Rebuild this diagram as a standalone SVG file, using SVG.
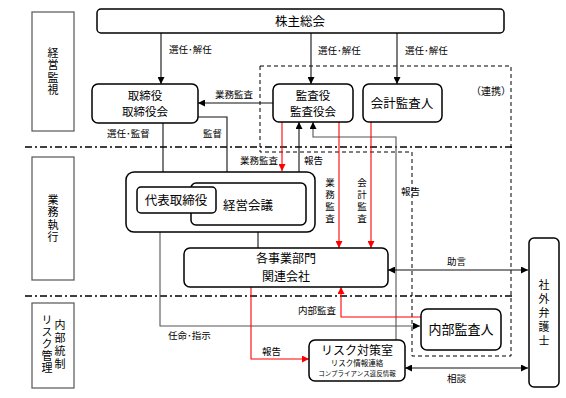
<svg xmlns="http://www.w3.org/2000/svg" width="566" height="398" viewBox="0 0 566 398">
<style>
text{font-family:"Noto Sans CJK JP","Noto Sans",sans-serif;fill:#000}
.v{writing-mode:vertical-rl;text-orientation:upright}
.box{fill:#fff;stroke:#000;stroke-width:1.5}
.side{fill:#fff;stroke:#555;stroke-width:1.2}
.ln{fill:none;stroke:#111;stroke-width:1.1}
.gr{fill:none;stroke:#555;stroke-width:1.1}
.rd{fill:none;stroke:#f00;stroke-width:1.1}
.sep{fill:none;stroke:#000;stroke-width:1.5;stroke-dasharray:7 3 2 3}
.dash{fill:none;stroke:#000;stroke-width:1;stroke-dasharray:4 3}
.lb{font-size:9.5px}
.nm{font-size:12.5px}
.n2{font-size:11.5px}
.sd{font-size:11px}
</style>
<defs>
<marker id="a" viewBox="0 0 10 10" refX="10" refY="5" markerWidth="7" markerHeight="7" markerUnits="userSpaceOnUse" orient="auto-start-reverse"><path d="M0,0L10,5L0,10z" fill="#000"/></marker>
<marker id="r" viewBox="0 0 10 10" refX="10" refY="5" markerWidth="7" markerHeight="7" markerUnits="userSpaceOnUse" orient="auto-start-reverse"><path d="M0,0L10,5L0,10z" fill="#f00"/></marker>
</defs>

<g id="separators">
<line class="sep" x1="25" y1="147" x2="515" y2="147"/>
<line class="sep" x1="25" y1="296" x2="515" y2="296"/>
<path class="dash" d="M260,66H511V356H412V152H260Z"/>
</g>

<g id="side-keiei"><rect class="side" x="32" y="12" width="42" height="119"/>
<text class="sd v" x="53" y="47" letter-spacing="1.5">経営監視</text></g>
<g id="side-gyomu"><rect class="side" x="32" y="157" width="42" height="123"/>
<text class="sd v" x="53" y="194" letter-spacing="1.5">業務執行</text></g>
<g id="side-risk"><rect class="side" x="32" y="303" width="42" height="85"/>
<text class="sd v" x="60" y="319" letter-spacing="2">内部統制</text>
<text class="sd v" x="47" y="314" letter-spacing="1">リスク管理</text></g>

<g id="connectors">
<line class="ln" x1="161" y1="33" x2="161" y2="84" marker-end="url(#a)"/>
<line class="ln" x1="311" y1="33" x2="311" y2="84" marker-end="url(#a)"/>
<line class="ln" x1="397" y1="33" x2="397" y2="84" marker-end="url(#a)"/>
<line class="ln" x1="273" y1="103" x2="198" y2="103" marker-end="url(#a)"/>
<line class="ln" x1="163" y1="123" x2="163" y2="184" marker-end="url(#a)"/>
<path class="ln" d="M198,117H227V182" marker-end="url(#a)"/>
<line class="ln" x1="299" y1="172" x2="299" y2="122" marker-end="url(#a)"/>
<path class="gr" d="M396,340V137H313V122" marker-end="url(#a)"/>
<line class="rd" x1="282" y1="122" x2="282" y2="171" marker-end="url(#r)"/>
<line class="rd" x1="339" y1="122" x2="339" y2="248" marker-end="url(#r)"/>
<line class="rd" x1="371" y1="122" x2="371" y2="248" marker-end="url(#r)"/>
<line class="ln" x1="258" y1="225" x2="258" y2="248"/>
<path class="gr" d="M160,213V326H420" marker-end="url(#a)"/>
<path class="rd" d="M421,317H341V287" marker-end="url(#r)"/>
<path class="rd" d="M251,287V359H309" marker-end="url(#r)"/>
<line class="ln" x1="388" y1="270" x2="528" y2="270" marker-start="url(#a)" marker-end="url(#a)"/>
<line class="ln" x1="405" y1="368" x2="528" y2="368" marker-start="url(#a)" marker-end="url(#a)"/>
</g>

<g id="labels" class="lb">
<text x="169" y="53">選任･解任</text>
<text x="318" y="54">選任･解任</text>
<text x="405" y="54">選任･解任</text>
<text x="215" y="98">業務監査</text>
<text x="107" y="137">選任･監督</text>
<text x="203" y="137">監督</text>
<text x="240" y="164">業務監査</text>
<text x="304" y="164">報告</text>
<text x="401" y="195">報告</text>
<text x="471" y="95" font-size="10">（連携）</text>
<text class="v" x="330" y="178" letter-spacing="2.5">業務監査</text>
<text class="v" x="362" y="178" letter-spacing="2.5">会計監査</text>
<text x="447" y="265">助言</text>
<text x="298" y="314">内部監査</text>
<text x="168" y="339">任命･指示</text>
<text x="262" y="355">報告</text>
<text x="447" y="382">相談</text>
</g>

<g id="kabunushi"><rect class="box" x="97" y="9" width="407" height="24" rx="4"/>
<text class="nm" x="300" y="26" text-anchor="middle">株主総会</text></g>
<g id="torishimariyaku"><rect class="box" x="92" y="84" width="106" height="39" rx="6"/>
<text class="n2" text-anchor="middle"><tspan x="145" y="99.5">取締役</tspan><tspan x="145" dy="16.8">取締役会</tspan></text></g>
<g id="kansayaku"><rect class="box" x="273" y="84" width="80" height="38" rx="6"/>
<text class="n2" text-anchor="middle"><tspan x="313" y="99.5">監査役</tspan><tspan x="313" dy="16.8">監査役会</tspan></text></g>
<g id="kaikei"><rect class="box" x="363" y="84" width="79" height="38" rx="6"/>
<text class="nm" x="402" y="108" text-anchor="middle">会計監査人</text></g>
<g id="shikko"><rect class="box" x="126" y="172" width="189" height="60" rx="8"/></g>
<g id="keiei-kaigi"><rect class="box" x="191" y="183" width="115" height="42" rx="5"/>
<text class="nm" x="248" y="210" text-anchor="middle">経営会議</text></g>
<g id="daihyo"><rect class="box" x="137" y="187" width="79" height="26" rx="4"/>
<text class="nm" x="176" y="205" text-anchor="middle">代表取締役</text></g>
<g id="jigyobu"><rect class="box" x="184" y="248" width="204" height="39" rx="6"/>
<text font-size="12" text-anchor="middle"><tspan x="286" y="263">各事業部門</tspan><tspan x="286" dy="17.5">関連会社</tspan></text></g>
<g id="naibu-kansa"><rect class="box" x="421" y="309" width="80" height="41" rx="6"/>
<text x="461" y="334" font-size="13" text-anchor="middle">内部監査人</text></g>
<g id="risk"><rect class="box" x="309" y="340" width="96" height="41" rx="6"/>
<text x="357" y="355" font-size="12" text-anchor="middle">リスク対策室</text>
<text x="357" y="366" font-size="7.5" text-anchor="middle">リスク情報連絡</text>
<text x="357" y="376" font-size="6.5" text-anchor="middle">コンプライアンス違反情報</text></g>
<g id="bengoshi"><rect class="box" x="529" y="238" width="30" height="149" rx="5"/>
<text class="sd v" x="544" y="279" letter-spacing="3">社外弁護士</text></g>
</svg>
